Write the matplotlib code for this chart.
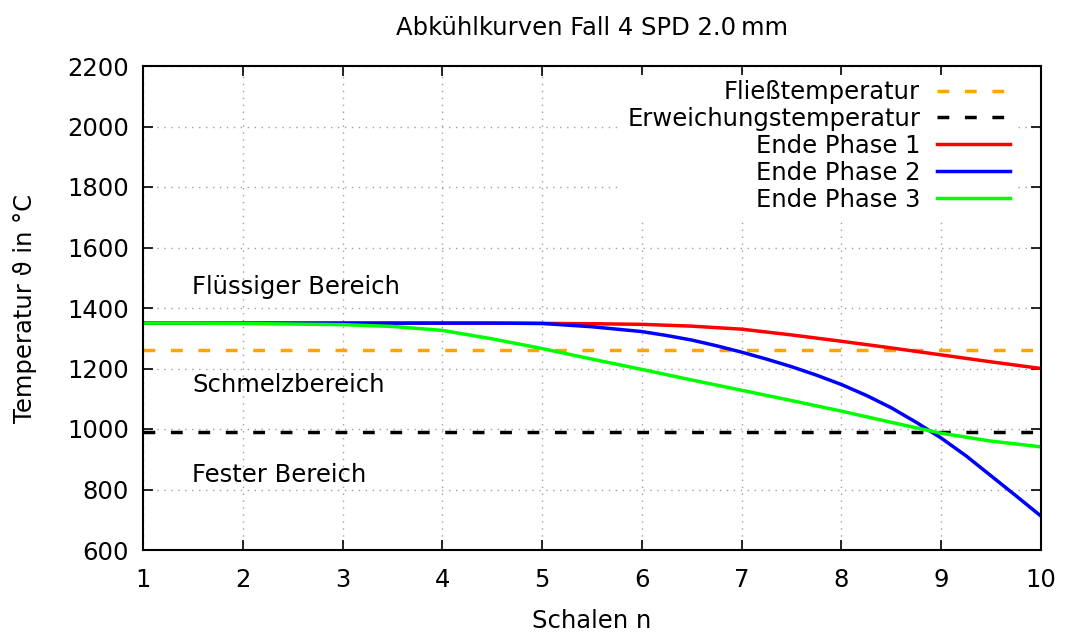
import matplotlib
matplotlib.use("Agg")
import matplotlib.pyplot as plt
from matplotlib.ticker import MultipleLocator

plt.rcParams['font.family'] = ['DejaVu Sans']

# Shell index n
n = [1, 1.5, 2, 2.5, 3, 3.5, 4, 4.5, 5, 5.5, 6, 6.5, 7, 7.5, 8, 8.5, 9, 9.5, 10]
# Finer shell index for the steeper phase-2 curve
n_fine = [1, 2, 3, 4, 4.5, 5, 5.5, 6, 6.25, 6.5, 6.75, 7, 7.25, 7.5, 7.75,
          8, 8.25, 8.5, 8.75, 9, 9.25, 9.5, 9.75, 10]

# Temperatures at the end of each phase (°C)
phase1 = [1350, 1350, 1350, 1350, 1350, 1350, 1350, 1350, 1349, 1348, 1346,
          1340, 1330, 1311, 1290, 1268, 1245, 1222, 1200]
phase2 = [1350, 1350, 1350, 1350, 1350, 1349, 1338, 1322, 1309, 1294, 1275,
          1254, 1231, 1206, 1178, 1147, 1111, 1070, 1022, 970, 911, 845, 779, 712]
phase3 = [1350, 1350, 1349, 1347, 1345, 1339, 1326, 1298, 1266, 1231, 1197,
          1162, 1128, 1094, 1059, 1022, 986, 960, 941]

# Material reference temperatures (°C)
t_flow = 1260
t_soft = 990

FS = 17.5
LW = 2.5

fig = plt.figure(figsize=(10.65, 6.32), dpi=100)
ax = fig.add_axes([143/1065, 1-550/632, (1041-143)/1065, (550-66)/632])

dash_style = (0, (3.4, 4.5))
ax.axhline(t_flow, color='#ffa500', lw=LW, ls=dash_style, label='Fließtemperatur')
ax.axhline(t_soft, color='black', lw=LW, ls=dash_style, label='Erweichungstemperatur')
ax.plot(n, phase1, color='#ff0000', lw=LW, label='Ende Phase 1')
ax.plot(n_fine, phase2, color='#0000ff', lw=LW, label='Ende Phase 2')
ax.plot(n, phase3, color='#00ff00', lw=LW, label='Ende Phase 3')

ax.set_xlim(1, 10)
ax.set_ylim(600, 2200)
ax.xaxis.set_major_locator(MultipleLocator(1))
ax.yaxis.set_major_locator(MultipleLocator(200))

ax.grid(True, color='#a0a0a0', ls=(0, (1, 4)), lw=1.0)
ax.set_axisbelow(True)
for s in ax.spines.values():
    s.set_linewidth(1.5)
ax.tick_params(direction='in', length=7, width=1.2, top=True, right=True,
               labelsize=FS)
ax.tick_params(axis='x', pad=13)
ax.tick_params(axis='y', pad=10)

ax.set_title('Abkühlkurven Fall 4 SPD 2.0\u2009mm', fontsize=FS, pad=22)
ax.set_xlabel('Schalen n', fontsize=FS, labelpad=12)
ax.set_ylabel('Temperatur ϑ in °C', fontsize=FS, labelpad=22)

ax.text(1.49, 1470, 'Flüssiger Bereich', fontsize=FS, va='center', ha='left')
ax.text(1.49, 1145, 'Schmelzbereich', fontsize=FS, va='center', ha='left')
ax.text(1.49, 848, 'Fester Bereich', fontsize=FS, va='center', ha='left')

leg = ax.legend(loc='upper right', bbox_to_anchor=(0.971, 0.981),
                markerfirst=False, fontsize=FS,
                frameon=True, facecolor='white', edgecolor='none', framealpha=1,
                fancybox=False, handlelength=3.0, handletextpad=0.7,
                labelspacing=0.12, borderpad=0.2, borderaxespad=0)
leg.get_frame().set_linewidth(0)

fig.savefig('out.png', dpi=100)
